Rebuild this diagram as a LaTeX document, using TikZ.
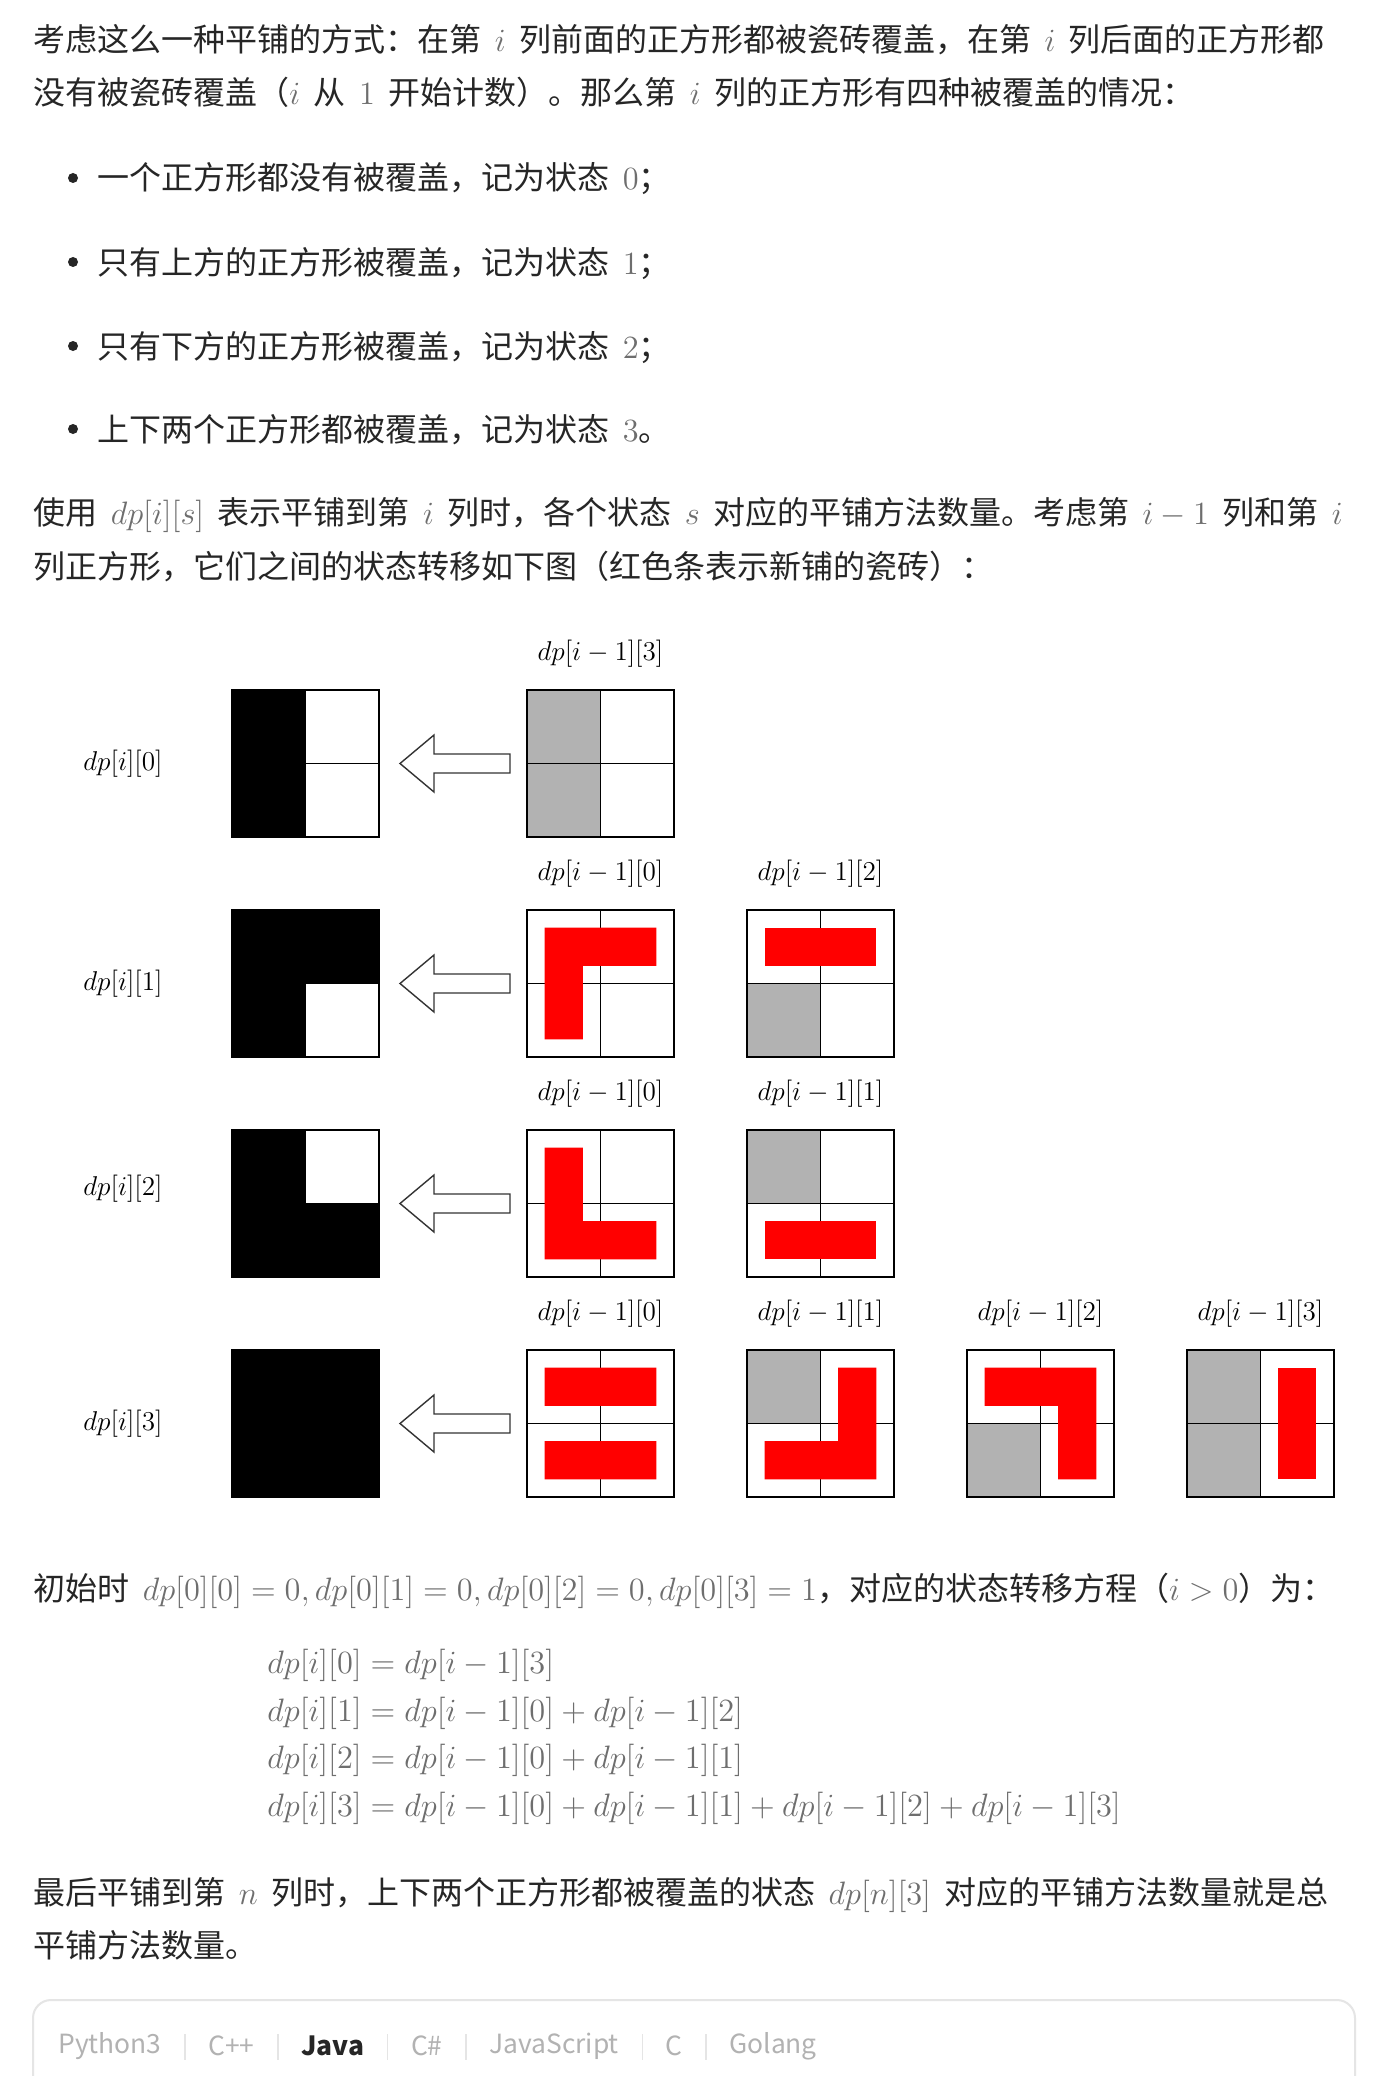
\RequirePackage{fix-cm}
\documentclass[tikz,border=0pt]{standalone}
\usepackage{fontspec}
\setmainfont{Noto Sans CJK SC}
\usetikzlibrary{positioning,calc}

\definecolor{textcol}{RGB}{38,38,38}
\definecolor{mathgray}{RGB}{110,110,110}
\definecolor{tabgray}{RGB}{178,178,178}
\definecolor{boxline}{RGB}{229,229,229}

\newcommand{\mi}[1]{\textcolor{mathgray}{\fontsize{16.2}{20}\selectfont$#1$}}
\newcommand{\gap}{\hspace{0.42em}}
\newcommand{\m}[1]{\gap\mi{#1}\gap}

\begin{document}
\begin{tikzpicture}[
  x=0.5pt, y=-0.5pt,
  txt/.style={anchor=base west, inner sep=0pt, text=textcol, font=\fontsize{16}{20}\selectfont},
  eqn/.style={anchor=base west, inner sep=0pt, text=mathgray, font=\fontsize{16.2}{20}\selectfont},
  dot/.style={circle, fill=textcol, inner sep=0pt, minimum size=5pt},
  lab/.style={anchor=base, inner sep=0pt, text=black, font=\fontsize{13.6}{16}\selectfont},
  tile/.style={minimum size=73.5pt, inner sep=0pt, outer sep=0pt},
  inside/.style={shift={(#1.north west)}, x=73.5pt, y=-73.5pt},
  frame/.style={draw=black, line width=0.65pt},
  covered/.style={fill=black},
  old/.style={fill=gray!60},
  new/.style={fill=red},
  hollow/.style={draw=black!80, line width=0.7pt, fill=white, line join=miter},
  tab/.style={inner sep=0pt, text=tabgray, font=\fontsize{13.2}{16}\selectfont},
  tabsep/.style={draw=boxline, line width=0.6pt}
]
\useasboundingbox[fill=white] (0,0) rectangle (1376,2076);

% Text above the figure
\node[txt] (l1) at (33,52) {考虑这么一种平铺的方式：在第\m{i}列前面的正方形都被瓷砖覆盖，在第\m{i}列后面的正方形都};
\node[txt] (l2) at (33,105) {没有被瓷砖覆盖（\mi{i}\gap 从\m{1}开始计数）。那么第\m{i}列的正方形有四种被覆盖的情况：};

\node[dot] (d1) at (73,178) {};
\node[txt] (b1) at (97,190) {一个正方形都没有被覆盖，记为状态\gap\mi{0}；};
\node[dot] (d2) at (73,262) {};
\node[txt] (b2) at (97,274) {只有上方的正方形被覆盖，记为状态\gap\mi{1}；};
\node[dot] (d3) at (73,346) {};
\node[txt] (b3) at (97,358) {只有下方的正方形被覆盖，记为状态\gap\mi{2}；};
\node[dot] (d4) at (73,429) {};
\node[txt] (b4) at (97,441) {上下两个正方形都被覆盖，记为状态\gap\mi{3}。};

\node[txt] (p1) at (33,524) {使用\m{dp[i][s]}表示平铺到第\m{i}列时，各个状态\m{s}对应的平铺方法数量。考虑第\m{i-1}列和第\gap\mi{i}};
\node[txt] (p2) at (33,578) {列正方形，它们之间的状态转移如下图（红色条表示新铺的瓷砖）：};

% Squares: column i (black) and column i-1 (grey = old, red = new)
\node[tile] (cur0) at (305.5,763.5) {};
\node[tile] (cur1) at (305.5,983.5) {};
\node[tile] (cur2) at (305.5,1203.5) {};
\node[tile] (cur3) at (305.5,1423.5) {};

\node[tile] (p0f3) at (600.5,763.5) {};
\node[tile] (p1f0) at (600.5,983.5) {};
\node[tile] (p1f2) at (820.5,983.5) {};
\node[tile] (p2f0) at (600.5,1203.5) {};
\node[tile] (p2f1) at (820.5,1203.5) {};
\node[tile] (p3f0) at (600.5,1423.5) {};
\node[tile] (p3f1) at (820.5,1423.5) {};
\node[tile] (p3f2) at (1040.5,1423.5) {};
\node[tile] (p3f3) at (1260.5,1423.5) {};

% covered cells
\fill[covered, inside=cur0] (0,0) rectangle (0.5,1);
\fill[covered, inside=cur1] (0,0) -- (1,0) -- (1,0.5) -- (0.5,0.5) -- (0.5,1) -- (0,1) -- cycle;
\fill[covered, inside=cur2] (0,0) -- (0.5,0) -- (0.5,0.5) -- (1,0.5) -- (1,1) -- (0,1) -- cycle;
\fill[covered, inside=cur3] (0,0) rectangle (1,1);

\fill[old, inside=p0f3] (0,0) rectangle (0.5,1);
\fill[old, inside=p1f2] (0,0.5) rectangle (0.5,1);
\fill[old, inside=p2f1] (0,0) rectangle (0.5,0.5);
\fill[old, inside=p3f1] (0,0) rectangle (0.5,0.5);
\fill[old, inside=p3f2] (0,0.5) rectangle (0.5,1);
\fill[old, inside=p3f3] (0,0) rectangle (0.5,1);

% grid lines
\foreach \t in {cur0,cur1,cur2,cur3,p0f3,p1f0,p1f2,p2f0,p2f1,p3f0,p3f1,p3f2,p3f3}
  \draw[frame] (\t.north west) rectangle (\t.south east)
    (\t.north) -- (\t.south) (\t.west) -- (\t.east);

% new tiles
\fill[new, inside=p1f0] (0.12,0.12) rectangle (0.38,0.88) (0.12,0.12) rectangle (0.88,0.38);
\fill[new, inside=p1f2] (0.12,0.12) rectangle (0.88,0.38);
\fill[new, inside=p2f0] (0.12,0.12) rectangle (0.38,0.88) (0.12,0.62) rectangle (0.88,0.88);
\fill[new, inside=p2f1] (0.12,0.62) rectangle (0.88,0.88);
\fill[new, inside=p3f0] (0.12,0.12) rectangle (0.88,0.38) (0.12,0.62) rectangle (0.88,0.88);
\fill[new, inside=p3f1] (0.62,0.12) rectangle (0.88,0.88) (0.12,0.62) rectangle (0.88,0.88);
\fill[new, inside=p3f2] (0.12,0.12) rectangle (0.88,0.38) (0.62,0.12) rectangle (0.88,0.88);
\fill[new, inside=p3f3] (0.62,0.12) rectangle (0.88,0.88);

% hollow arrows from column i-1 to column i
\foreach \a/\b in {p0f3/cur0, p1f0/cur1, p2f0/cur2, p3f0/cur3}
  \draw[hollow] ($(\a.west)+(-17,-9.5)$) -- ($(\b.east)+(55,-9.5)$)
    -- ($(\b.east)+(55,-28.5)$) -- ($(\b.east)+(21,0)$) -- ($(\b.east)+(55,28.5)$)
    -- ($(\b.east)+(55,9.5)$) -- ($(\a.west)+(-17,9.5)$) -- cycle;

% state labels
\node[lab] (lcur0) at ($(cur0.center)+(-182.5,7)$) {$dp[i][0]$};
\node[lab] (lcur1) at ($(cur1.center)+(-182.5,7)$) {$dp[i][1]$};
\node[lab] (lcur2) at ($(cur2.center)+(-182.5,-8)$) {$dp[i][2]$};
\node[lab] (lcur3) at ($(cur3.center)+(-182.5,7)$) {$dp[i][3]$};

\node[lab] (lp0f3) at ($(p0f3.north)+(0,-30)$) {$dp[i-1][3]$};
\node[lab] (lp1f0) at ($(p1f0.north)+(0,-30)$) {$dp[i-1][0]$};
\node[lab] (lp1f2) at ($(p1f2.north)+(0,-30)$) {$dp[i-1][2]$};
\node[lab] (lp2f0) at ($(p2f0.north)+(0,-30)$) {$dp[i-1][0]$};
\node[lab] (lp2f1) at ($(p2f1.north)+(0,-30)$) {$dp[i-1][1]$};
\node[lab] (lp3f0) at ($(p3f0.north)+(0,-30)$) {$dp[i-1][0]$};
\node[lab] (lp3f1) at ($(p3f1.north)+(0,-30)$) {$dp[i-1][1]$};
\node[lab] (lp3f2) at ($(p3f2.north)+(0,-30)$) {$dp[i-1][2]$};
\node[lab] (lp3f3) at ($(p3f3.north)+(0,-30)$) {$dp[i-1][3]$};

% Text below the figure
\node[txt] (p3) at (33,1600) {初始时\gap\mi{dp[0][0]=0, dp[0][1]=0, dp[0][2]=0, dp[0][3]=1}，对应的状态转移方程（\mi{i>0}）为：};

\node[eqn] (e0) at (267,1673) {$dp[i][0]=dp[i-1][3]$};
\node[eqn] (e1) at (267,1721) {$dp[i][1]=dp[i-1][0]+dp[i-1][2]$};
\node[eqn] (e2) at (267,1768) {$dp[i][2]=dp[i-1][0]+dp[i-1][1]$};
\node[eqn] (e3) at (267,1816) {$dp[i][3]=dp[i-1][0]+dp[i-1][1]+dp[i-1][2]+dp[i-1][3]$};

\node[txt] (p4) at (33,1904) {最后平铺到第\m{n}列时，上下两个正方形都被覆盖的状态\m{dp[n][3]}对应的平铺方法数量就是总};
\node[txt] (p5) at (33,1957) {平铺方法数量。};

% code box with language tabs
\draw[boxline, line width=1pt] (33,2100) -- (33,2018) arc[start angle=180, end angle=90, radius=9pt]
  -- (1337,2000) arc[start angle=90, end angle=0, radius=9pt] -- (1355,2100);

\node[tab, anchor=west] (py) at (58,2046) {Python3};
\node[tab, right=23pt of py] (cpp) {C++};
\node[tab, right=23pt of cpp, text=textcol, font=\fontsize{13.2}{16}\selectfont\bfseries] (java) {Java};
\node[tab, right=23pt of java] (cs) {C\#};
\node[tab, right=23pt of cs] (js) {JavaScript};
\node[tab, right=23pt of js] (c) {C};
\node[tab, right=23pt of c] (go) {Golang};

\foreach \a/\b in {py/cpp, cpp/java, java/cs, cs/js, js/c, c/go}
  \draw[tabsep] ($(\a.east)!0.5!(\b.west)+(0,-12)$) -- ($(\a.east)!0.5!(\b.west)+(0,14)$);

\end{tikzpicture}
\end{document}
